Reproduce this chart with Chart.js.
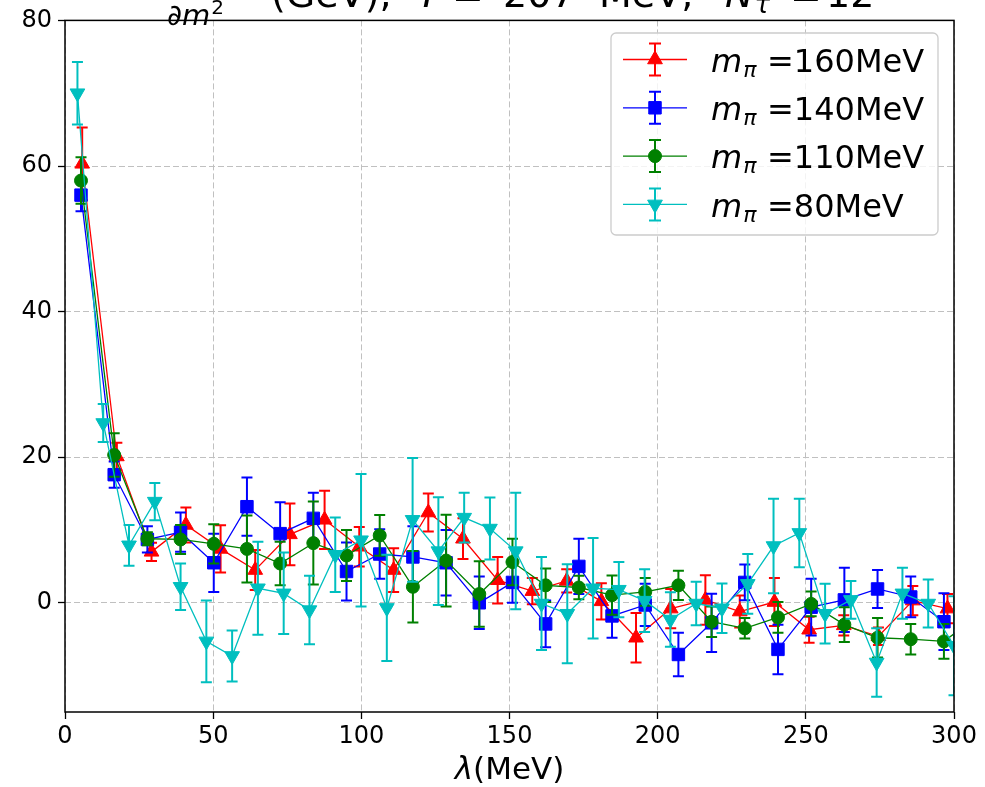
<!DOCTYPE html>
<html>
<head>
<meta charset="utf-8">
<script src="https://cdn.jsdelivr.net/npm/chart.js@4/dist/chart.umd.min.js"></script>
<style>
  html, body { margin: 0; padding: 0; background: #ffffff; }
  #wrap { width: 985px; height: 787px; }
</style>
</head>
<body>
<div id="wrap"><canvas id="c" width="985" height="787"></canvas></div>
<script>
// Axis ticks
const xTicks = [0, 50, 100, 150, 200, 250, 300];
const yTicks = [0, 20, 40, 60, 80];

// Series labels (pion masses)
const seriesLabels = ['160MeV', '140MeV', '110MeV', '80MeV'];

// m_pi = 160 MeV
const lam160 = [5.8, 17.5, 29.2, 40.8, 52.5, 64.2, 75.9, 87.6, 99.3, 110.9, 122.6, 134.3, 146.0,
                157.7, 169.3, 181.0, 192.7, 204.4, 216.1, 227.7, 239.4, 251.1, 262.8, 274.5, 286.1, 297.8];
const val160 = [60.3, 20.1, 7.0, 10.7, 7.4, 4.5, 9.4, 11.4, 7.7, 4.5, 12.4, 8.8, 3.1,
                1.6, 3.0, 0.2, -4.8, -0.8, 0.4, -1.2, 0.1, -3.7, -3.1, -4.6, 0.3, -0.8];
const err160 = [5.0, 1.9, 1.25, 2.4, 3.25, 2.75, 4.25, 4.0, 2.7, 3.0, 2.6, 2.8, 3.2,
                1.8, 1.6, 2.5, 3.4, 2.7, 3.4, 2.2, 3.3, 1.8, 1.4, 1.2, 2.0, 2.0];

// m_pi = 140 MeV
const lam140 = [5.4, 16.6, 27.8, 39.0, 50.2, 61.4, 72.6, 83.8, 95.0, 106.2, 117.4, 128.6, 139.8,
                151.0, 162.2, 173.4, 184.6, 195.8, 207.0, 218.2, 229.4, 240.6, 251.8, 263.0, 274.2, 285.4, 296.6];
const val140 = [56.0, 17.6, 8.7, 9.7, 5.5, 13.2, 9.5, 11.6, 4.3, 6.7, 6.3, 5.5, 0.0,
                2.8, -2.9, 5.0, -1.8, -0.3, -7.1, -2.75, 2.8, -6.4, -0.6, 0.4, 1.9, 0.8, -2.6];
const err140 = [2.2, 1.8, 1.8, 2.7, 4.0, 4.0, 4.3, 3.5, 4.0, 3.4, 4.2, 4.5, 3.6,
                2.8, 3.2, 3.8, 3.0, 2.9, 3.0, 4.0, 2.45, 3.4, 3.9, 4.4, 2.6, 2.8, 3.9];

// m_pi = 110 MeV
const lam110 = [5.4, 16.6, 27.8, 39.0, 50.2, 61.4, 72.6, 83.8, 95.0, 106.2, 117.4, 128.6, 139.8,
                151.0, 162.2, 173.4, 184.6, 195.8, 207.0, 218.2, 229.4, 240.6, 251.8, 263.0, 274.2, 285.4, 296.6, 307.8];
const val110 = [58.0, 20.3, 8.8, 8.7, 8.1, 7.4, 5.4, 8.2, 6.5, 9.25, 2.2, 5.8, 1.2,
                5.6, 2.4, 2.1, 1.05, 1.5, 2.4, -2.6, -3.5, -2.0, -0.15, -3.0, -4.8, -5.0, -5.3, -1.9];
const err110 = [3.2, 3.0, 0.9, 2.0, 2.7, 4.6, 3.0, 5.7, 3.5, 2.8, 4.9, 6.3, 4.5,
                3.2, 2.3, 1.6, 2.7, 1.9, 2.0, 2.1, 1.4, 2.1, 1.7, 2.4, 2.7, 2.1, 2.4, 2.0];

// m_pi = 80 MeV
const lam80 = [4.2, 12.9, 21.6, 30.3, 39.0, 47.7, 56.4, 65.1, 73.8, 82.5, 91.2, 99.9, 108.6, 117.3,
               126.0, 134.7, 143.4, 152.1, 160.8, 169.5, 178.2, 186.9, 195.6, 204.3, 213.0, 221.7, 230.4,
               239.1, 247.8, 256.5, 265.2, 273.9, 282.6, 291.3, 300.0];
const val80 = [70.0, 24.7, 7.9, 13.9, 2.2, -5.3, -7.3, 2.0, 1.3, -1.0, 6.6, 8.6, -0.7, 11.4,
               7.1, 11.7, 10.2, 7.1, -0.1, -1.5, 2.0, 1.8, 0.3, -2.3, -0.1, -0.75, 2.6,
               7.8, 9.6, -1.5, 0.4, -8.2, 1.3, -0.1, -5.9];
const err80 = [4.3, 2.6, 2.8, 2.55, 3.2, 5.6, 3.5, 6.4, 5.6, 4.7, 5.1, 9.1, 7.3, 8.5,
               7.4, 3.4, 4.25, 8.0, 6.4, 6.8, 6.9, 3.8, 4.3, 3.75, 3.0, 3.4, 4.1,
               6.5, 4.7, 4.1, 2.6, 4.7, 3.5, 3.3, 6.8];

const FONT = '"DejaVu Sans", sans-serif';
Chart.defaults.font.family = FONT;
Chart.defaults.color = '#000000';

const styles = [
  { color: '#ff0000', shape: 'triangle', rot: 0,   r: 8.5 },
  { color: '#0000ff', shape: 'rect',     rot: 0,   r: 8.8 },
  { color: '#008000', shape: 'circle',   rot: 0,   r: 6.5 },
  { color: '#00bfbf', shape: 'triangle', rot: 180, r: 8.5 }
];

const series = [
  { label: seriesLabels[0], x: lam160, y: val160, e: err160 },
  { label: seriesLabels[1], x: lam140, y: val140, e: err140 },
  { label: seriesLabels[2], x: lam110, y: val110, e: err110 },
  { label: seriesLabels[3], x: lam80,  y: val80,  e: err80 }
];

const datasets = series.map((s, k) => {
  const st = styles[k];
  return {
    label: s.label,
    data: s.x.map((x, i) => ({ x: x, y: s.y[i] })),
    errors: s.e,
    borderColor: st.color,
    backgroundColor: st.color,
    borderWidth: 1.3,
    tension: 0,
    fill: false,
    pointStyle: st.shape,
    pointRotation: st.rot,
    pointRadius: st.r,
    pointHoverRadius: st.r,
    pointBorderWidth: 1,
    pointBackgroundColor: st.color,
    pointBorderColor: st.color,
    order: series.length - k   // later series are painted on top
  };
});

// Vertical error bars with caps, painted right after each series
const errorBars = {
  id: 'errorBars',
  afterDatasetDraw(chart, args) {
    const ds = chart.data.datasets[args.index];
    const xs = chart.scales.x, ys = chart.scales.y;
    const a = chart.chartArea;
    const ctx = chart.ctx;
    ctx.save();
    ctx.beginPath();
    ctx.rect(a.left, a.top, a.right - a.left, a.bottom - a.top);
    ctx.clip();
    ctx.strokeStyle = ds.borderColor;
    ctx.lineWidth = 2;
    ctx.setLineDash([]);
    const cap = 5.5;
    ds.data.forEach((p, i) => {
      const e = ds.errors[i];
      const px = xs.getPixelForValue(p.x);
      const y1 = ys.getPixelForValue(p.y - e);
      const y2 = ys.getPixelForValue(p.y + e);
      ctx.beginPath();
      ctx.moveTo(px, y1); ctx.lineTo(px, y2);
      ctx.moveTo(px - cap, y1); ctx.lineTo(px + cap, y1);
      ctx.moveTo(px - cap, y2); ctx.lineTo(px + cap, y2);
      ctx.stroke();
    });
    ctx.restore();
  }
};

function marker(ctx, st, x, y) {
  ctx.save();
  ctx.fillStyle = st.color;
  ctx.strokeStyle = st.color;
  ctx.lineWidth = 1;
  ctx.beginPath();
  const r = st.r;
  if (st.shape === 'circle') {
    ctx.arc(x, y, r, 0, Math.PI * 2);
  } else if (st.shape === 'rect') {
    const s = Math.SQRT1_2 * r;
    ctx.rect(x - s, y - s, 2 * s, 2 * s);
  } else {
    let a = st.rot * Math.PI / 180;
    for (let k = 0; k < 3; k++) {
      const px = x + Math.sin(a) * r, py = y - Math.cos(a) * r;
      if (k === 0) ctx.moveTo(px, py); else ctx.lineTo(px, py);
      a += 2 * Math.PI / 3;
    }
    ctx.closePath();
  }
  ctx.fill();
  ctx.stroke();
  ctx.restore();
}

function put(ctx, s, x, y, font) {
  ctx.font = font;
  ctx.fillText(s, x, y);
  return x + ctx.measureText(s).width;
}

// Frame, legend, title and x-axis title
const decorations = {
  id: 'decorations',
  afterDraw(chart) {
    const ctx = chart.ctx;
    const a = chart.chartArea;
    ctx.save();
    ctx.setLineDash([]);

    // axes frame
    ctx.strokeStyle = '#000000';
    ctx.lineWidth = 1.5;
    ctx.strokeRect(a.left, a.top, a.right - a.left, a.bottom - a.top);

    ctx.fillStyle = '#000000';
    ctx.textBaseline = 'alphabetic';
    ctx.textAlign = 'left';

    // title (runs off the top edge)
    const tf = '38px ' + FONT, tfi = 'italic 38px ' + FONT;
    put(ctx, '\u2202', 167, 25, '29px ' + FONT);
    let fx = 167 + (ctx.measureText('\u2202').width);
    fx = put(ctx, 'm', fx, 25, 'italic 29px ' + FONT);
    put(ctx, '2', fx + 1, 14, '20px ' + FONT);
    put(ctx, '(GeV),', 271, 7, tf);
    put(ctx, 'T', 417, 7, tfi);
    put(ctx, '=', 452, 7, tf);
    put(ctx, '207', 503, 7, tf);
    put(ctx, 'MeV,', 599, 7, tf);
    const nx = put(ctx, 'N', 725, 7, tfi);
    put(ctx, '\u03c4', nx + 1, 13, 'italic 26px ' + FONT);
    put(ctx, '=', 790, 7, tf);
    put(ctx, '12', 826, 7, tf);

    // x-axis title
    const lf = 'italic 31px ' + FONT, rf = '31px ' + FONT;
    ctx.font = lf; const w1 = ctx.measureText('\u03bb').width;
    ctx.font = rf; const w2 = ctx.measureText('(MeV)').width;
    const cx = (a.left + a.right) / 2;
    let lx = cx - (w1 + w2) / 2;
    lx = put(ctx, '\u03bb', lx, 779, lf);
    put(ctx, '(MeV)', lx, 779, rf);

    // legend
    const bx = 611, by = 33, bw = 327, bh = 202, rr = 5;
    ctx.beginPath();
    ctx.moveTo(bx + rr, by);
    ctx.arcTo(bx + bw, by, bx + bw, by + bh, rr);
    ctx.arcTo(bx + bw, by + bh, bx, by + bh, rr);
    ctx.arcTo(bx, by + bh, bx, by, rr);
    ctx.arcTo(bx, by, bx + bw, by, rr);
    ctx.closePath();
    ctx.fillStyle = 'rgba(255,255,255,0.8)';
    ctx.fill();
    ctx.strokeStyle = '#cccccc';
    ctx.lineWidth = 1.3;
    ctx.stroke();

    series.forEach((s, k) => {
      const st = styles[k];
      const cy = 59.5 + 48.3 * k;
      ctx.strokeStyle = st.color;
      ctx.lineWidth = 1.3;
      ctx.beginPath();
      ctx.moveTo(623, cy); ctx.lineTo(687, cy);
      ctx.stroke();
      ctx.lineWidth = 2;
      ctx.beginPath();
      ctx.moveTo(655, cy - 16); ctx.lineTo(655, cy + 16);
      ctx.moveTo(649, cy - 16); ctx.lineTo(661, cy - 16);
      ctx.moveTo(649, cy + 16); ctx.lineTo(661, cy + 16);
      ctx.stroke();
      marker(ctx, st, 655, cy);

      ctx.fillStyle = '#000000';
      const base = cy + 12.2;
      let tx = put(ctx, 'm', 711, base, 'italic 32px ' + FONT);
      put(ctx, '\u03c0', tx + 1, base + 5, 'italic 22px ' + FONT);
      put(ctx, '=' + s.label, 767, base, '32px ' + FONT);
    });

    ctx.restore();
  }
};

new Chart(document.getElementById('c'), {
  type: 'line',
  data: { datasets: datasets },
  plugins: [errorBars, decorations],
  options: {
    responsive: false,
    devicePixelRatio: 1,
    animation: false,
    events: [],
    layout: { padding: { top: 16, right: 31, left: 0, bottom: 0 } },
    plugins: {
      legend: { display: false },
      title: { display: false },
      tooltip: { enabled: false }
    },
    scales: {
      x: {
        type: 'linear',
        min: 0,
        max: 300,
        afterBuildTicks(scale) { scale.ticks = xTicks.map(v => ({ value: v })); },
        afterFit(scale) { scale.height = 75; },
        ticks: {
          font: { size: 24 },
          color: '#000000',
          padding: 3,
          maxRotation: 0,
          autoSkip: false
        },
        grid: {
          color: '#c0c0c0',
          lineWidth: 1,
          drawTicks: true,
          tickLength: 7,
          tickColor: '#000000',
          tickWidth: 1.3,
          tickBorderDash: []
        },
        border: { display: false, dash: [6, 3] }
      },
      y: {
        type: 'linear',
        min: -15,
        max: 80,
        afterBuildTicks(scale) { scale.ticks = yTicks.map(v => ({ value: v })); },
        afterFit(scale) { scale.width = 65; },
        ticks: {
          font: { size: 24 },
          color: '#000000',
          padding: 6,
          autoSkip: false
        },
        grid: {
          color: '#c0c0c0',
          lineWidth: 1,
          drawTicks: true,
          tickLength: 7,
          tickColor: '#000000',
          tickWidth: 1.3,
          tickBorderDash: []
        },
        border: { display: false, dash: [6, 3] }
      }
    }
  }
});
</script>
</body>
</html>
